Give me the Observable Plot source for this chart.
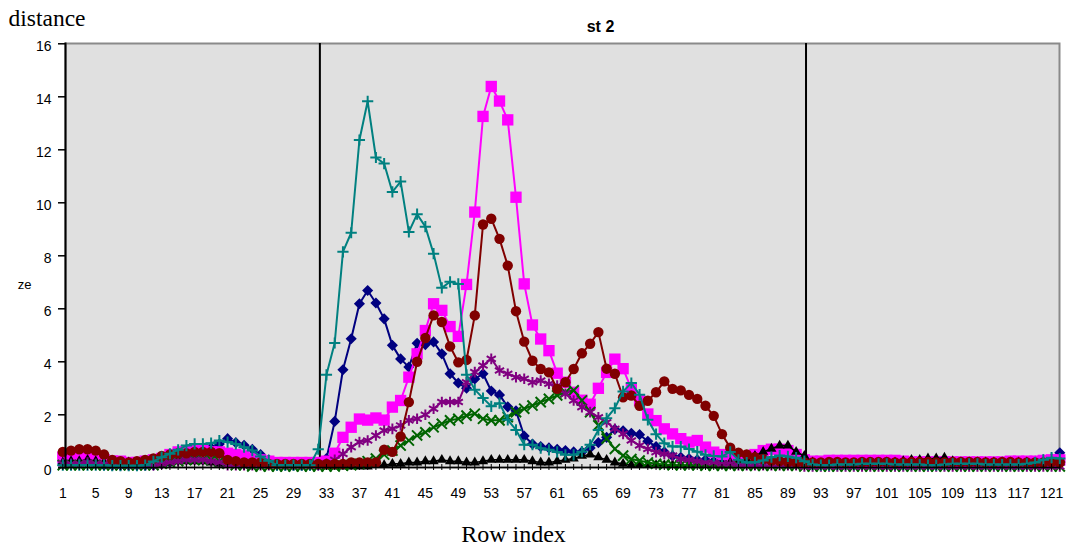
<!DOCTYPE html>
<html><head><meta charset="utf-8">
<script src="https://cdn.jsdelivr.net/npm/d3@7"></script>
<script src="https://cdn.jsdelivr.net/npm/@observablehq/plot@0.6"></script>
<style>html,body{margin:0;padding:0;background:#fff;}</style>
</head><body><div id="chart"></div>
<script>
// Row index (x) — 122 rows
const rows = d3.range(1, 123);
const xTickLabels = [1,5,9,13,17,21,25,29,33,37,41,45,49,53,57,61,65,69,73,77,81,85,89,93,97,101,105,109,113,117,121];
const yTicks = [0,2,4,6,8,10,12,14,16];
const boundaries = [32.2, 91.2];

const seriesNavy = [
0.15,0.15,0.2,0.2,0.15,0.1,0.1,0.1,0.1,0.1,
0.1,0.1,0.15,0.2,0.3,0.45,0.55,0.6,0.75,0.9,
1.1,0.95,0.85,0.7,0.5,0.3,0.15,0.1,0.1,0.1,
0.1,0.1,0.35,1.75,3.7,4.87,6.19,6.69,6.22,5.62,
4.62,4.11,3.8,4.7,4.65,4.75,4.3,3.55,3.2,3.0,
3.35,3.55,2.9,2.75,2.3,2.15,1.2,0.9,0.8,0.75,
0.7,0.65,0.6,0.6,0.75,0.95,1.15,1.45,1.4,1.3,
1.25,1.0,0.8,0.6,0.45,0.4,0.35,0.3,0.3,0.25,
0.25,0.2,0.2,0.2,0.2,0.25,0.25,0.3,0.3,0.25,
0.2,0.15,0.15,0.15,0.15,0.15,0.15,0.15,0.15,0.15,
0.15,0.15,0.15,0.15,0.15,0.15,0.15,0.15,0.15,0.15,
0.15,0.15,0.15,0.15,0.15,0.15,0.15,0.2,0.25,0.3,
0.35,0.57];

const seriesMagenta = [
0.4,0.4,0.45,0.45,0.4,0.3,0.25,0.25,0.2,0.2,
0.25,0.3,0.35,0.5,0.6,0.65,0.65,0.65,0.6,0.6,
0.55,0.5,0.45,0.35,0.3,0.25,0.2,0.2,0.2,0.2,
0.2,0.2,0.25,0.55,1.15,1.53,1.84,1.8,1.88,1.8,
2.29,2.54,3.42,4.3,5.18,6.19,5.94,5.33,4.96,6.92,
9.65,13.26,14.39,13.84,13.13,10.21,6.94,5.39,4.86,4.42,
3.57,3.23,2.85,2.55,2.4,3.0,3.6,4.1,3.74,2.98,
2.53,2.03,1.78,1.47,1.28,1.1,0.97,1.03,0.78,0.59,
0.5,0.4,0.35,0.4,0.5,0.65,0.7,0.7,0.65,0.5,
0.3,0.25,0.25,0.28,0.28,0.28,0.28,0.28,0.28,0.28,
0.28,0.28,0.25,0.22,0.22,0.22,0.22,0.22,0.22,0.22,
0.22,0.22,0.22,0.22,0.22,0.25,0.25,0.25,0.25,0.28,
0.3,0.3];

const seriesBlack = [
0.2,0.25,0.25,0.3,0.25,0.2,0.25,0.2,0.2,0.2,
0.15,0.15,0.2,0.2,0.25,0.25,0.25,0.25,0.2,0.15,
0.15,0.15,0.1,0.1,0.1,0.1,0.1,0.1,0.1,0.1,
0.1,0.1,0.05,0.05,0.05,0.05,0.05,0.05,0.1,0.1,
0.15,0.15,0.2,0.2,0.25,0.25,0.3,0.25,0.25,0.2,
0.2,0.25,0.3,0.3,0.3,0.3,0.3,0.25,0.2,0.2,
0.25,0.3,0.35,0.45,0.5,0.4,0.3,0.2,0.15,0.1,
0.1,0.1,0.1,0.1,0.1,0.1,0.1,0.1,0.1,0.1,
0.15,0.2,0.25,0.3,0.45,0.6,0.72,0.84,0.84,0.6,
0.45,0.2,0.15,0.15,0.15,0.15,0.15,0.15,0.15,0.15,
0.2,0.2,0.25,0.3,0.3,0.35,0.35,0.38,0.25,0.2,
0.2,0.2,0.2,0.2,0.2,0.2,0.2,0.2,0.2,0.2,
0.2,0.2];

const seriesGreen = [
0.1,0.1,0.1,0.1,0.1,0.1,0.1,0.1,0.1,0.1,
0.1,0.1,0.15,0.2,0.25,0.3,0.3,0.3,0.3,0.25,
0.15,0.1,0.1,0.05,0.05,0.05,0.05,0.05,0.05,0.05,
0.05,0.05,0.05,0.05,0.08,0.1,0.15,0.25,0.35,0.5,
0.65,0.84,1.03,1.22,1.34,1.53,1.66,1.79,1.85,1.97,
2.04,1.85,1.79,1.79,1.91,2.1,2.23,2.35,2.48,2.6,
2.73,2.85,2.92,2.54,2.1,1.6,1.1,0.71,0.46,0.33,
0.27,0.2,0.15,0.12,0.1,0.1,0.1,0.1,0.08,0.08,
0.08,0.08,0.08,0.08,0.08,0.08,0.08,0.08,0.08,0.08,
0.05,0.05,0.05,0.05,0.05,0.05,0.05,0.05,0.05,0.05,
0.05,0.05,0.05,0.05,0.05,0.05,0.05,0.05,0.05,0.05,
0.05,0.05,0.05,0.05,0.05,0.05,0.05,0.05,0.05,0.05,
0.05,0.05];

const seriesPurple = [
0.15,0.15,0.15,0.2,0.15,0.15,0.1,0.1,0.1,0.1,
0.1,0.1,0.15,0.2,0.25,0.3,0.3,0.3,0.25,0.2,
0.1,0.1,0.1,0.1,0.1,0.1,0.1,0.1,0.1,0.1,
0.1,0.1,0.15,0.3,0.52,0.78,0.97,1.03,1.22,1.41,
1.47,1.6,1.79,1.85,2.0,2.23,2.48,2.48,2.48,3.23,
3.61,3.86,4.11,3.67,3.55,3.42,3.36,3.23,3.29,3.17,
3.1,2.79,2.54,2.29,2.1,1.91,1.72,1.47,1.28,1.03,
0.84,0.71,0.59,0.52,0.46,0.33,0.3,0.25,0.2,0.2,
0.15,0.15,0.1,0.1,0.1,0.1,0.1,0.1,0.1,0.1,
0.05,0.05,0.05,0.05,0.05,0.05,0.05,0.05,0.05,0.05,
0.05,0.05,0.05,0.05,0.05,0.05,0.05,0.05,0.05,0.05,
0.05,0.05,0.05,0.05,0.05,0.05,0.05,0.05,0.05,0.05,
0.05,0.05];

const seriesRed = [
0.6,0.65,0.7,0.7,0.65,0.5,0.3,0.25,0.2,0.25,
0.3,0.35,0.45,0.5,0.55,0.55,0.6,0.6,0.6,0.55,
0.3,0.25,0.2,0.2,0.2,0.15,0.15,0.15,0.15,0.15,
0.15,0.15,0.15,0.15,0.15,0.2,0.2,0.2,0.2,0.68,
0.6,1.18,2.48,4.0,4.9,5.75,5.5,4.58,3.98,4.07,
5.75,9.18,9.4,8.64,7.63,5.91,4.76,4.04,3.73,3.6,
2.98,3.23,3.73,4.32,4.68,5.12,3.74,3.55,2.66,2.73,
2.34,2.53,2.85,3.26,2.98,2.92,2.75,2.6,2.34,1.96,
1.27,0.76,0.57,0.5,0.4,0.33,0.27,0.25,0.22,0.2,
0.2,0.2,0.2,0.22,0.22,0.2,0.2,0.22,0.22,0.22,
0.22,0.2,0.2,0.22,0.22,0.22,0.2,0.2,0.22,0.22,
0.22,0.22,0.2,0.2,0.22,0.22,0.2,0.2,0.2,0.2,
0.22,0.2];

const seriesTeal = [
0.1,0.1,0.1,0.1,0.1,0.1,0.08,0.08,0.08,0.08,
0.1,0.24,0.4,0.53,0.68,0.84,0.9,0.9,0.93,1.03,
0.97,0.9,0.78,0.65,0.43,0.27,0.1,0.1,0.1,0.1,
0.1,0.7,3.51,4.71,8.15,8.87,12.37,13.83,11.71,11.48,
10.41,10.8,8.9,9.57,9.1,8.08,6.79,7.02,6.94,3.51,
2.95,2.63,2.32,2.44,1.81,1.43,0.87,0.87,0.74,0.68,
0.6,0.49,0.49,0.61,0.87,1.43,1.87,2.25,2.88,3.2,
2.76,1.81,1.27,0.93,0.8,0.8,0.71,0.61,0.49,0.45,
0.43,0.6,0.3,0.2,0.21,0.28,0.4,0.46,0.43,0.38,
0.25,0.12,0.1,0.1,0.12,0.12,0.12,0.15,0.15,0.15,
0.15,0.12,0.12,0.12,0.12,0.1,0.1,0.12,0.15,0.15,
0.15,0.15,0.12,0.12,0.12,0.12,0.12,0.15,0.2,0.3,
0.38,0.35];

// drawing order follows the spreadsheet series order
const seriesList = [
  {name: "navy", values: seriesNavy},
  {name: "magenta", values: seriesMagenta},
  {name: "black", values: seriesBlack},
  {name: "green", values: seriesGreen},
  {name: "purple", values: seriesPurple},
  {name: "red", values: seriesRed},
  {name: "teal", values: seriesTeal}
];

const styles = {
  navy:    {color: "#000080", symbol: "diamond2", r: 5.0, filled: true,  lw: 2},
  magenta: {color: "#ff00ff", symbol: "square",   r: 6.4, filled: true,  lw: 2},
  black:   {color: "#000000", symbol: "triangle", r: 3.8, filled: true,  lw: 1.5},
  green:   {color: "#006400", symbol: "times",    r: 4.7, filled: false, lw: 2},
  purple:  {color: "#800080", symbol: "asterisk", r: 5.0, filled: false, lw: 2},
  red:     {color: "#800000", symbol: "circle",   r: 5.2, filled: true,  lw: 2},
  teal:    {color: "#008080", symbol: "plus",     r: 3.7, filled: false, lw: 2}
};

const table = seriesList.flatMap(s => s.values.map((v, i) => ({row: rows[i], value: v, series: s.name})));

const seriesMarks = seriesList.flatMap(s => {
  const st = styles[s.name];
  const d = table.filter(t => t.series === s.name);
  return [
    Plot.line(d, {x: "row", y: "value", stroke: st.color, strokeWidth: st.lw}),
    Plot.dot(d, {x: "row", y: "value", symbol: st.symbol, r: st.r,
      fill: st.filled ? st.color : "none", stroke: st.filled ? "none" : st.color, strokeWidth: 2})
  ];
});

const chart = Plot.plot({
  width: 1066,
  height: 552,
  marginLeft: 65,
  marginRight: 7,
  marginTop: 43,
  marginBottom: 85,
  style: {fontFamily: "'Liberation Sans', Arial, sans-serif", color: "black", background: "white", overflow: "visible"},
  x: {type: "linear", domain: [1, 122], range: [62.3, 1059.3], label: null},
  y: {domain: [0, 16], range: [467.3, 43.3], label: null},
  marks: [
    Plot.frame({fill: "#e0e0e0", stroke: "#8a8a8a", strokeWidth: 2}),
    Plot.ruleX(boundaries, {stroke: "black", strokeWidth: 2}),
    ...seriesMarks,
    Plot.frame({anchor: "left", stroke: "black", strokeWidth: 2}),
    Plot.frame({anchor: "bottom", stroke: "black", strokeWidth: 1.5}),
    Plot.axisY({ticks: yTicks, tickSize: 7, strokeWidth: 1.5, tickFormat: () => "", label: null}),
    Plot.axisY({ticks: yTicks, tickSize: 0, tickPadding: 14, dy: 3, fontSize: 14, tickFormat: d => String(d), label: null}),
    Plot.axisX({ticks: rows, tickSize: 6, dy: -3, strokeWidth: 1, tickFormat: () => "", label: null}),
    Plot.axisX({ticks: xTickLabels, tickSize: 0, tickPadding: 21, fontSize: 14, tickFormat: d => String(d), label: null}),
    Plot.text(["distance"], {frameAnchor: "top-left", dx: -57, dy: -18, textAnchor: "start", lineAnchor: "bottom",
      fontFamily: "'Liberation Serif', 'Times New Roman', serif", fontSize: 23.5}),
    Plot.text(["st 2"], {frameAnchor: "top", dx: 38, dy: -12, textAnchor: "middle", lineAnchor: "bottom",
      fontSize: 16, fontWeight: "bold"}),
    Plot.text(["ze"], {frameAnchor: "left", dx: -41, dy: 33, textAnchor: "middle", lineAnchor: "bottom", fontSize: 13}),
    Plot.text(["Row index"], {frameAnchor: "bottom", dx: -49, dy: 74, textAnchor: "middle", lineAnchor: "bottom",
      fontFamily: "'Liberation Serif', 'Times New Roman', serif", fontSize: 24})
  ]
});
document.getElementById("chart").appendChild(chart);
</script>
</body></html>
